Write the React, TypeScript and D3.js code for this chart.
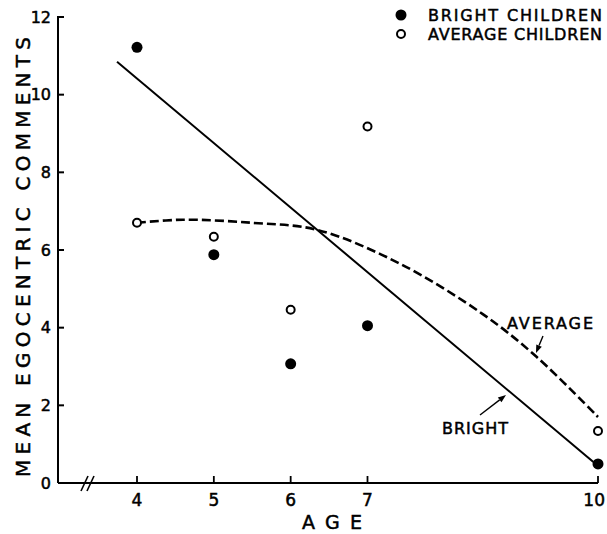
import React from "react";
import * as d3 from "d3";

// values
const ages = [4, 5, 6, 7, 10];
const brightMeans = [11.22, 5.88, 3.07, 4.05, 0.49];
const averageMeans = [6.7, 6.34, 4.46, 9.18, 1.34];
const yTicks = [0, 2, 4, 6, 8, 10, 12];
const brightFit: [number, number][] = [
  [3.74, 10.85],
  [9.94, 0.54],
];
const averageFit: [number, number][] = [
  [4, 6.7],
  [4.6, 6.78],
  [5.5, 6.7],
  [6.34, 6.52],
  [7.4, 5.67],
  [8.5, 4.35],
  [9.2, 3.25],
  [10, 1.7],
];

const W = 607;
const H = 534;
const FONT = "'DejaVu Sans', 'Liberation Sans', sans-serif";
// hand lettering is a bit heavier than the regular face
const ink = { fill: "#000", stroke: "#000", strokeWidth: 0.5 };

const App: React.FC = () => {
  const x = d3.scaleLinear().domain([4, 10]).range([137, 598]);
  const y = d3.scaleLinear().domain([0, 12]).range([483, 17]);
  const axisLeft = 58;

  const straight = d3
    .line<[number, number]>()
    .x((d) => x(d[0]))
    .y((d) => y(d[1]));
  const curved = d3
    .line<[number, number]>()
    .x((d) => x(d[0]))
    .y((d) => y(d[1]))
    .curve(d3.curveCatmullRom.alpha(0.5));

  const arrow = (x1: number, y1: number, x2: number, y2: number) => {
    const a = Math.atan2(y2 - y1, x2 - x1);
    const len = 8;
    const w = 3;
    const bx = x2 - len * Math.cos(a);
    const by = y2 - len * Math.sin(a);
    const px = -Math.sin(a) * w;
    const py = Math.cos(a) * w;
    return (
      <g>
        <line x1={x1} y1={y1} x2={bx} y2={by} stroke="#000" strokeWidth={1.4} />
        <path d={`M${x2},${y2}L${bx + px},${by + py}L${bx - px},${by - py}Z`} fill="#000" />
      </g>
    );
  };

  return (
    <svg
      width={W}
      height={H}
      style={{ position: "absolute", left: 0, top: 0, background: "#fff" }}
      fontFamily={FONT}
    >
      {/* axes */}
      <line x1={axisLeft} y1={y(0)} x2={x(10)} y2={y(0)} stroke="#000" strokeWidth={2} />
      <line x1={axisLeft} y1={y(0)} x2={axisLeft} y2={y(12) - 1} stroke="#000" strokeWidth={2} />
      {yTicks.map((t) => (
        <g key={`y${t}`}>
          <line x1={axisLeft} y1={y(t)} x2={axisLeft + 6} y2={y(t)} stroke="#000" strokeWidth={2} />
          <text
            x={51}
            y={y(t)}
            textAnchor="end"
            dominantBaseline="central"
            fontSize={16}
            {...ink}
          >
            {t}
          </text>
        </g>
      ))}
      {ages.map((a) => (
        <g key={`x${a}`}>
          <line x1={x(a)} y1={y(0)} x2={x(a)} y2={y(0) - 7} stroke="#000" strokeWidth={1.8} />
          <text
            x={a === 10 ? 605 : x(a)}
            y={y(0) + 23}
            textAnchor={a === 10 ? "end" : "middle"}
            fontSize={17}
            {...ink}
          >
            {a}
          </text>
        </g>
      ))}
      {/* axis break */}
      <line x1={81} y1={491} x2={88} y2={476} stroke="#000" strokeWidth={1.6} />
      <line x1={87} y1={491} x2={94} y2={476} stroke="#000" strokeWidth={1.6} />

      <text
        x={332}
        y={529}
        textAnchor="middle"
        fontSize={19}
        textLength={60}
        lengthAdjust="spacing"
        {...ink}
      >
        AGE
      </text>
      <text
        transform={`translate(30,${257}) rotate(-90)`}
        textAnchor="middle"
        fontSize={20}
        textLength={440}
        lengthAdjust="spacing"
        {...ink}
      >
        MEAN EGOCENTRIC COMMENTS
      </text>

      {/* fitted lines */}
      <path d={straight(brightFit) ?? ""} fill="none" stroke="#000" strokeWidth={2} />
      <path
        d={curved(averageFit) ?? ""}
        fill="none"
        stroke="#000"
        strokeWidth={2.6}
        strokeDasharray="9 4"
      />

      {/* points */}
      {ages.map((a, i) => (
        <circle key={`b${a}`} cx={x(a)} cy={y(brightMeans[i])} r={5.5} fill="#000" />
      ))}
      {ages.map((a, i) => (
        <circle
          key={`a${a}`}
          cx={x(a)}
          cy={y(averageMeans[i])}
          r={4}
          fill="#fff"
          stroke="#000"
          strokeWidth={2}
        />
      ))}

      {/* annotations */}
      <text x={507} y={329} fontSize={16} textLength={86} lengthAdjust="spacing" {...ink}>
        AVERAGE
      </text>
      {arrow(543, 336, 536, 353)}
      <text x={442} y={434} fontSize={16} textLength={66} lengthAdjust="spacing" {...ink}>
        BRIGHT
      </text>
      {arrow(480, 415, 506, 395)}

      {/* legend */}
      <circle cx={401} cy={15} r={5.5} fill="#000" />
      <text x={428} y={21} fontSize={16} textLength={174} lengthAdjust="spacing" {...ink}>
        BRIGHT CHILDREN
      </text>
      <circle cx={401} cy={34} r={4} fill="#fff" stroke="#000" strokeWidth={2} />
      <text x={428} y={40} fontSize={16} textLength={174} lengthAdjust="spacing" {...ink}>
        AVERAGE CHILDREN
      </text>
    </svg>
  );
};

export default App;
